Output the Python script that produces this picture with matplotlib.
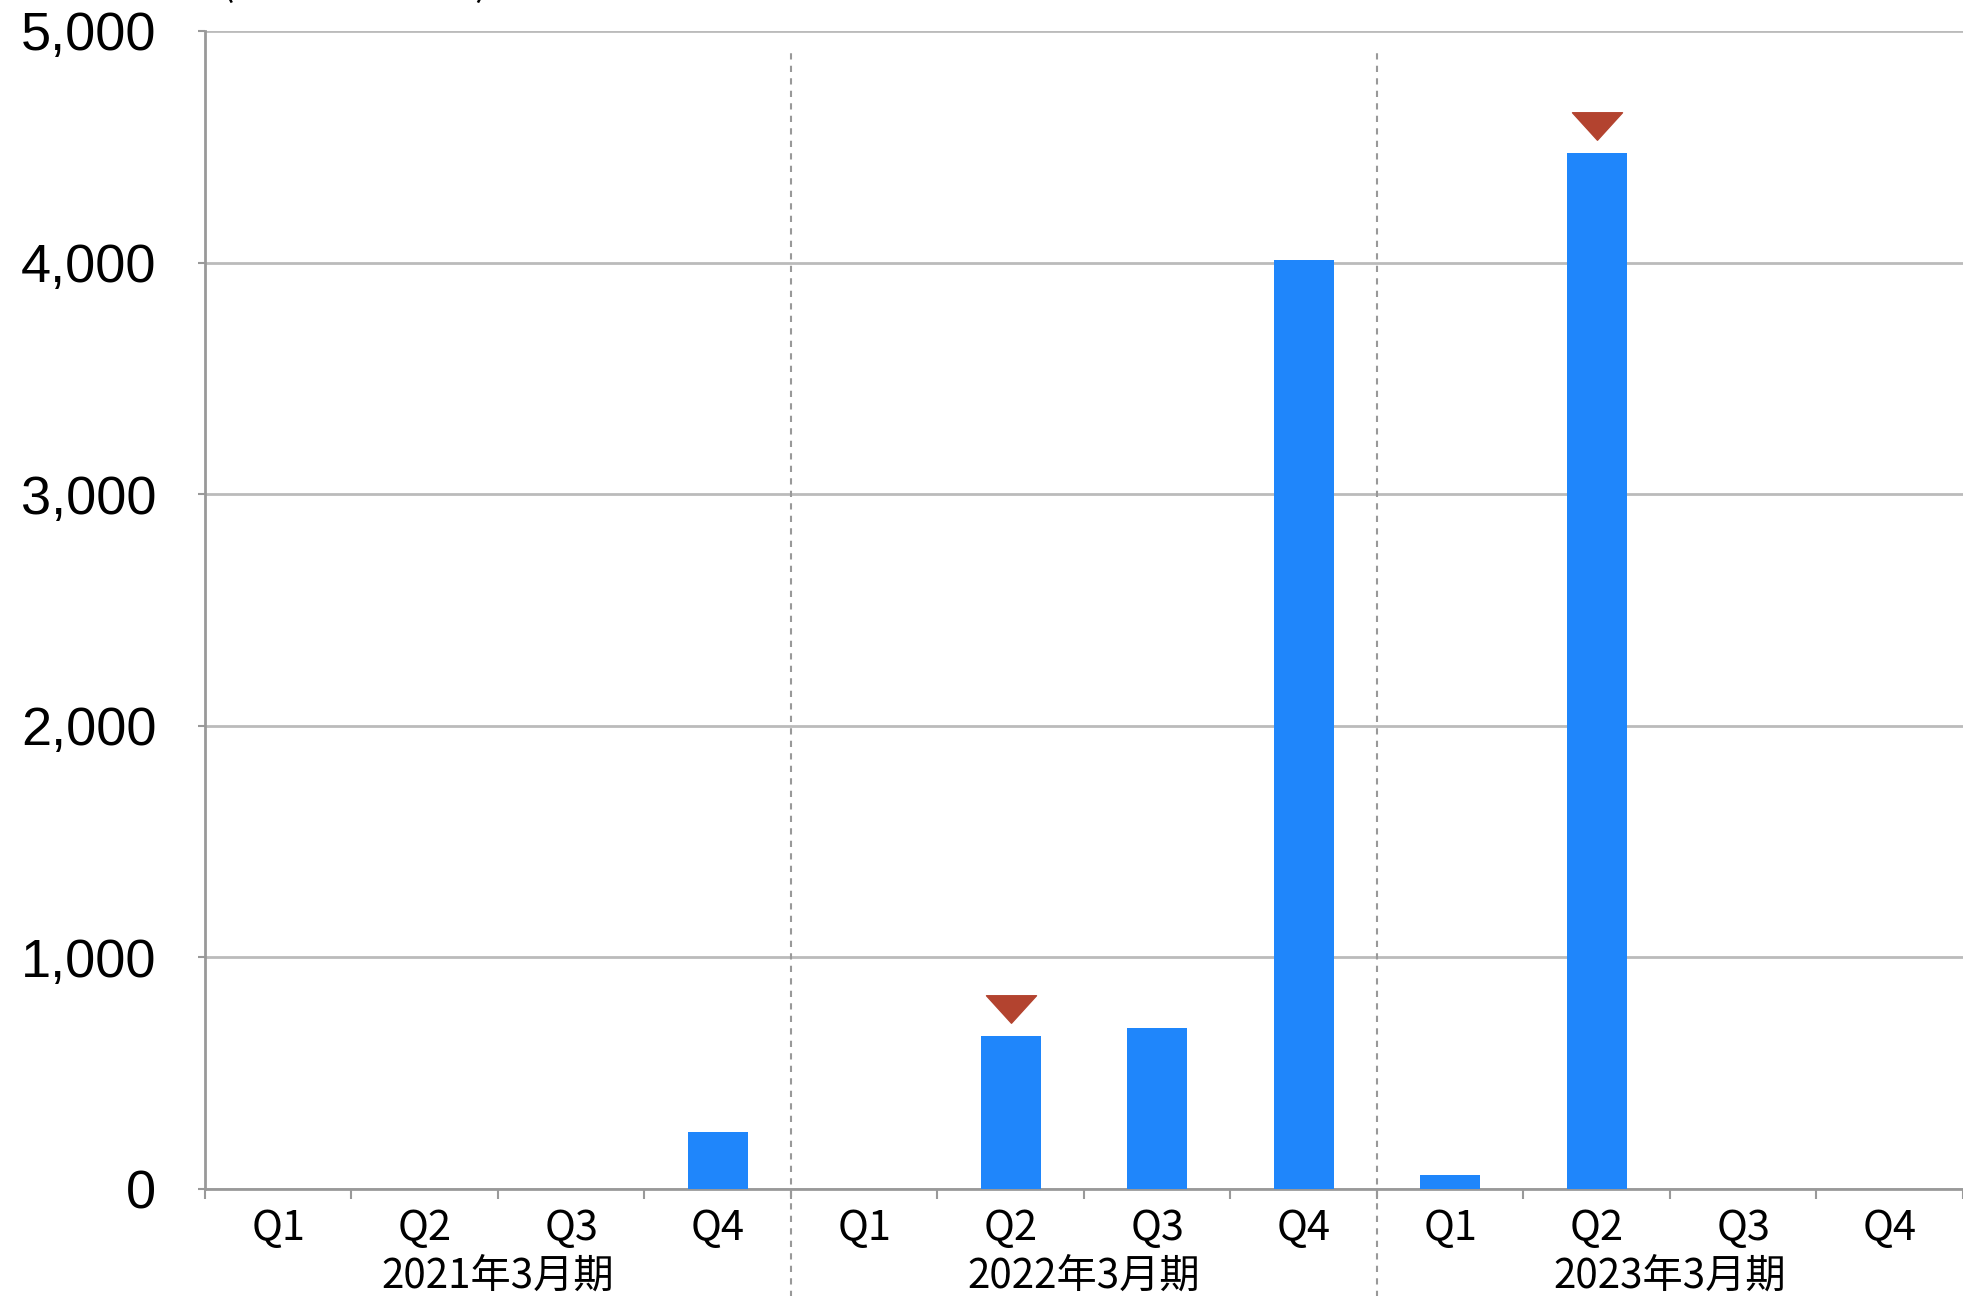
from matplotlib import pyplot as plt
from matplotlib.path import Path
import matplotlib.transforms as mtransforms
import numpy as np

# data
years = ['2021年3月期', '2022年3月期', '2023年3月期']
quarters = ['Q1', 'Q2', 'Q3', 'Q4']
values = [0, 0, 0, 245,
          0, 660, 695, 4010,
          60, 4475, 0, 0]
negative = [False, False, False, False,
            False, True, False, False,
            False, True, False, False]
unit_label = '(単位：百万円)'

cjk = ['Noto Sans CJK JP', 'DejaVu Sans']
bar_color = '#1f86fb'
mark_color = '#b3432f'
grid_color = '#bbbbbb'
axis_color = '#999999'

fig = plt.figure(figsize=(19.63, 12.96), dpi=100)
ax = fig.add_axes([0.1044, 0.0826, 0.8956, 0.8935])

x = np.arange(len(values))
ax.bar(x, values, width=0.41, color=bar_color, zorder=3)

# red down-triangles mark negative periods
tri = Path([(-1, 0.55), (1, 0.55), (0, -0.55), (-1, 0.55)],
           [Path.MOVETO, Path.LINETO, Path.LINETO, Path.CLOSEPOLY])
offset = mtransforms.offset_copy(ax.transData, fig=fig, x=0, y=27, units='dots')
xn = [i for i in x if negative[i]]
yn = [values[i] for i in x if negative[i]]
ax.plot(xn, yn, linestyle='none', marker=tri, markersize=36,
        color=mark_color, transform=offset, zorder=4, clip_on=False)

ax.set_xlim(-0.5, len(values) - 0.5)
ax.set_ylim(0, 5000)
ax.set_yticks(range(0, 5001, 1000))
ax.set_yticklabels([f'{v:,}' for v in range(0, 5001, 1000)],
                   family='Liberation Sans', fontsize=39)
ax.yaxis.grid(True, color=grid_color, linewidth=2, zorder=0)
ax.tick_params(axis='y', length=5, width=1.5, color=axis_color, pad=30)

ax.set_xticks(x)
ax.set_xticklabels(quarters * len(years), family=cjk, fontsize=30)
ax.set_xticks(np.arange(-0.5, len(values)), minor=True)
ax.tick_params(axis='x', which='major', length=0, pad=14)
ax.tick_params(axis='x', which='minor', length=7, width=1.5, color=axis_color)

for side in ['top', 'right']:
    ax.spines[side].set_visible(False)
for side in ['left', 'bottom']:
    ax.spines[side].set_color(axis_color)
    ax.spines[side].set_linewidth(2)

# year group labels and separators
trans = mtransforms.blended_transform_factory(ax.transData, ax.transAxes)
for i, yr in enumerate(years):
    ax.text(i * 4 + 1.5, -0.075, yr, transform=trans, ha='center', va='center',
            family=cjk, fontsize=29)
    if i > 0:
        ax.axvline(i * 4 - 0.5, ymin=-0.1, ymax=0.984, color=axis_color,
                   linestyle=(0, (3, 3)), linewidth=1.5, clip_on=False, zorder=2)

fig.text(0.112, 0.997, unit_label, family=cjk, fontsize=29, va='bottom')

fig.savefig('out.png', dpi=100)
